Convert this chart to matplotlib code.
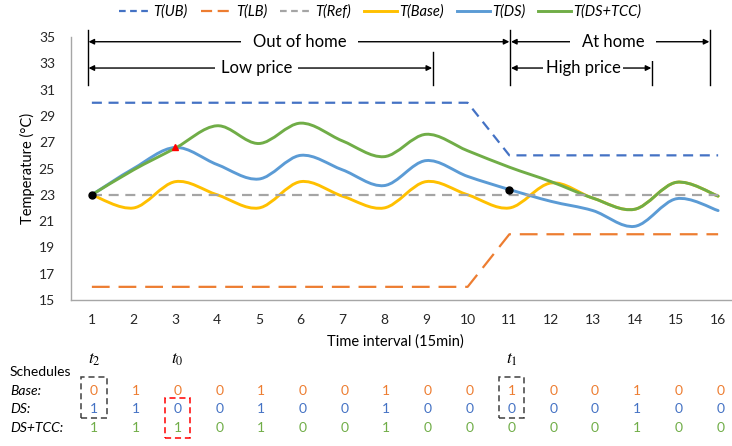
import matplotlib
matplotlib.use("Agg")
import matplotlib.pyplot as plt
from matplotlib.path import Path
from matplotlib.patches import PathPatch, Rectangle
from matplotlib.lines import Line2D
from matplotlib.transforms import blended_transform_factory

plt.rcParams['font.family'] = ['Lato', 'DejaVu Sans']
plt.rcParams['mathtext.fontset'] = 'stix'

# data
intervals = list(range(1, 17))
t_ub = [30, 30, 30, 30, 30, 30, 30, 30, 30, 30, 26, 26, 26, 26, 26, 26]
t_lb = [16, 16, 16, 16, 16, 16, 16, 16, 16, 16, 20, 20, 20, 20, 20, 20]
t_ref = [23] * 16
t_base = [23, 22, 24, 23, 22, 24, 22.9, 22, 24, 23, 22, 23.9, 22.75, 21.9, 23.95, 22.9]
t_ds = [23, 25, 26.6, 25.3, 24.2, 26, 24.9, 23.7, 25.6, 24.4, 23.4, 22.5, 21.8, 20.6, 22.7, 21.8]
t_tcc = [23, 24.9, 26.55, 28.25, 26.9, 28.45, 27.1, 25.9, 27.6, 26.35, 25.1, 24.0, 22.75, 21.9, 23.95, 22.9]

sched_base = [0, 1, 0, 0, 1, 0, 0, 1, 0, 0, 1, 0, 0, 1, 0, 0]
sched_ds = [1, 1, 0, 0, 1, 0, 0, 1, 0, 0, 0, 0, 0, 1, 0, 0]
sched_tcc = [1, 1, 1, 0, 1, 0, 0, 1, 0, 0, 0, 0, 0, 1, 0, 0]

c_ub = '#4472C4'
c_lb = '#ED7D31'
c_ref = '#A5A5A5'
c_base = '#FFC000'
c_ds = '#5B9BD5'
c_tcc = '#70AD47'


def smooth_path(xs, ys):
    # excel style smoothed line: bezier segments through every point
    pts = list(zip(xs, ys))
    verts = [pts[0]]
    codes = [Path.MOVETO]
    n = len(pts)
    for i in range(n - 1):
        p0 = pts[i - 1] if i > 0 else pts[i]
        p1 = pts[i]
        p2 = pts[i + 1]
        p3 = pts[i + 2] if i + 2 < n else pts[i + 1]
        c1 = (p1[0] + (p2[0] - p0[0]) / 6, p1[1] + (p2[1] - p0[1]) / 6)
        c2 = (p2[0] - (p3[0] - p1[0]) / 6, p2[1] - (p3[1] - p1[1]) / 6)
        verts += [c1, c2, p2]
        codes += [Path.CURVE4] * 3
    return Path(verts, codes)


fig = plt.figure(figsize=(7.32, 4.46), dpi=100)
ax = fig.add_axes([71 / 732, 1 - 300 / 446, 668 / 732, 263 / 446])

ax.plot(intervals, t_ub, color=c_ub, lw=1.6, dashes=(4.5, 3))
ax.plot(intervals, t_lb, color=c_lb, lw=1.6, dashes=(8, 4))
ax.plot(intervals, t_ref, color=c_ref, lw=1.6, dashes=(4.5, 3))
for series, col in [(t_base, c_base), (t_ds, c_ds), (t_tcc, c_tcc)]:
    ax.add_patch(PathPatch(smooth_path(intervals, series), facecolor='none',
                           edgecolor=col, lw=2.1, capstyle='round', joinstyle='round'))

ax.plot([1, 11], [t_ds[0], t_ds[10]], 'o', color='black', ms=5, zorder=5)
ax.plot([3], [t_ds[2]], '^', color='red', ms=5, zorder=5)

ax.set_xlim(0.5, 16.5)
ax.set_ylim(15, 35)
ax.set_xticks(intervals)
ax.set_yticks(range(15, 36, 2))
ax.tick_params(length=0, labelsize=10, colors='#262626')
ax.tick_params(axis='y', pad=11.5)
ax.tick_params(axis='x', pad=10)
for s in ['top', 'right']:
    ax.spines[s].set_visible(False)
for s in ['left', 'bottom']:
    ax.spines[s].set_color('#A6A6A6')
    ax.spines[s].set_linewidth(1)
ax.set_ylabel('Temperature (°C)', fontsize=10.5)
ax.yaxis.set_label_coords(-0.054, 0.5)
ax.set_xlabel('Time interval (15min)', fontsize=10.5)
ax.xaxis.set_label_coords(0.485, -0.13)

# period annotations above the plot
vline_top = 35.55
vline_bot = 31.35
for xv, top in [(0.9, vline_top), (11.02, vline_top), (15.81, vline_top),
                (9.17, 33.86), (14.42, 33.86)]:
    ax.plot([xv, xv], [vline_bot, top], color='black', lw=1, clip_on=False)

arrows = [
    (0.92, 11.0, 34.64, 'Out of home', 5.98, 0.7),
    (11.04, 15.79, 34.64, 'At home', 13.48, 0.7),
    (0.92, 9.15, 32.64, 'Low price', 4.95, 0.35),
    (11.04, 14.4, 32.64, 'High price', 12.77, 0.15),
]
for x0, x1, yv, label, xt, pad in arrows:
    ax.annotate('', xy=(x1, yv), xytext=(x0, yv), annotation_clip=False,
                arrowprops=dict(arrowstyle='<|-|>', color='black', lw=1,
                                shrinkA=0, shrinkB=0, mutation_scale=8))
    ax.text(xt, yv, label, ha='center', va='center', fontsize=12, zorder=6,
            bbox=dict(boxstyle='square,pad=%s' % pad, facecolor='white', edgecolor='none'))

handles = [
    Line2D([], [], color=c_ub, lw=1.6, dashes=(3, 2)),
    Line2D([], [], color=c_lb, lw=1.6, dashes=(5, 2.5)),
    Line2D([], [], color=c_ref, lw=1.6, dashes=(3, 2)),
    Line2D([], [], color=c_base, lw=2.1),
    Line2D([], [], color=c_ds, lw=2.1),
    Line2D([], [], color=c_tcc, lw=2.1),
]
labels = ['T(UB)', 'T(LB)', 'T(Ref)', 'T(Base)', 'T(DS)', 'T(DS+TCC)']
fig.legend(handles, labels, loc='center', bbox_to_anchor=(380 / 732, 1 - 12 / 446),
           ncol=6, frameon=False, prop={'style': 'italic', 'size': 10.5},
           handlelength=2.25, handletextpad=0.15, columnspacing=0.9)

# schedule table below the axis
tr = blended_transform_factory(ax.transData, fig.transFigure)
row_y = [1 - 391 / 446, 1 - 409 / 446, 1 - 428 / 446]
fig.text(10 / 732, 1 - 372 / 446, 'Schedules', fontsize=10, va='center')
for lab, yv in zip(['Base:', 'DS:', 'DS+TCC:'], row_y):
    fig.text(10 / 732, yv, lab, fontsize=10, va='center', style='italic')
for vals, col, yv in zip([sched_base, sched_ds, sched_tcc], [c_lb, c_ub, c_tcc], row_y):
    for xi, v in zip(intervals, vals):
        ax.text(xi + 0.05, yv, str(v), transform=tr, ha='center', va='center',
                fontsize=10, color=col)

y_t = 1 - 360 / 446
for xi, lab in [(1, '$t_2$'), (3, '$t_0$'), (11, '$t_1$')]:
    ax.text(xi + 0.05, y_t, lab, transform=tr, ha='center', va='center', fontsize=12.5)

boxes = [(1, 1 - 418 / 446, 1 - 377 / 446, '#404040'),
         (3, 1 - 438 / 446, 1 - 398 / 446, 'red'),
         (11, 1 - 418 / 446, 1 - 377 / 446, '#404040')]
for xi, y0, y1, col in boxes:
    fig.add_artist(Rectangle((xi + 0.05 - 0.31, y0), 0.62, y1 - y0, transform=tr,
                             fill=False, edgecolor=col, lw=1.1, linestyle=(0, (4, 2.5))))

fig.savefig('out.png', dpi=100)
